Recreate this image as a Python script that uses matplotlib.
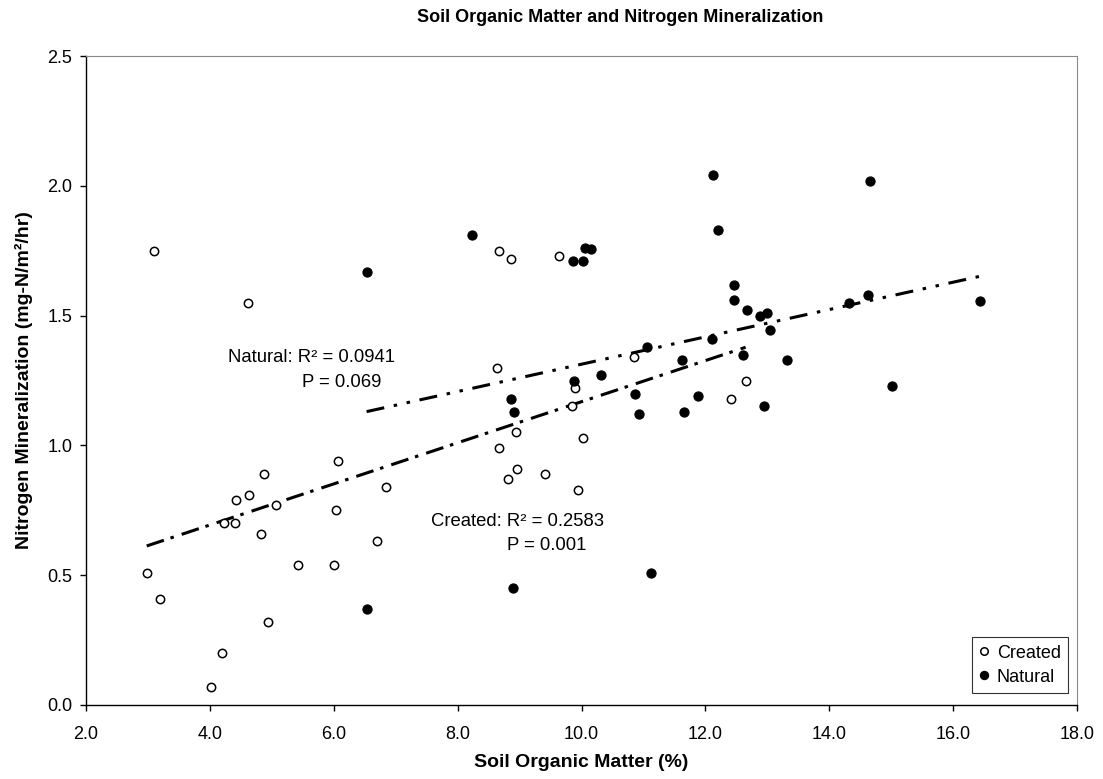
import numpy as np
import matplotlib
matplotlib.use('Agg')
import matplotlib.pyplot as plt

plt.rcParams['font.family'] = ['Liberation Sans', 'DejaVu Sans']
plt.rcParams['lines.scale_dashes'] = False

# soil organic matter (%) and N mineralization (mg-N/m2/hr)
created_som = [3.10, 4.62, 6.07, 4.88, 4.42, 4.63, 5.07, 4.22, 4.41, 4.82,
               6.03, 6.85, 6.69, 5.43, 6.01, 2.98, 3.19, 4.94, 4.20, 4.02,
               8.67, 8.86, 9.63, 10.85, 8.64, 9.90, 12.65, 12.42, 9.85, 8.94,
               10.03, 8.67, 8.81, 8.96, 9.41, 9.94]
created_nmin = [1.75, 1.55, 0.94, 0.89, 0.79, 0.81, 0.77, 0.70, 0.70, 0.66,
                0.75, 0.84, 0.63, 0.54, 0.54, 0.51, 0.41, 0.32, 0.20, 0.07,
                1.75, 1.72, 1.73, 1.34, 1.30, 1.22, 1.25, 1.18, 1.15, 1.05,
                1.03, 0.99, 0.87, 0.91, 0.89, 0.83]

natural_som = [6.54, 6.53, 8.23, 9.87, 10.03, 10.06, 10.16, 12.12, 12.20, 12.46,
               12.47, 12.68, 12.11, 11.06, 11.62, 12.60, 10.32, 9.88, 10.87, 11.88,
               8.86, 8.91, 10.93, 11.66, 12.89, 13.00, 13.05, 14.32, 14.62, 16.44,
               13.32, 15.01, 12.94, 14.66, 8.90, 11.12]
natural_nmin = [1.67, 0.37, 1.81, 1.71, 1.71, 1.76, 1.755, 2.04, 1.83, 1.62,
                1.56, 1.52, 1.41, 1.38, 1.33, 1.35, 1.27, 1.25, 1.20, 1.19,
                1.18, 1.13, 1.12, 1.13, 1.50, 1.51, 1.445, 1.55, 1.58, 1.555,
                1.33, 1.23, 1.15, 2.02, 0.45, 0.51]

x_ticks = [2.0, 4.0, 6.0, 8.0, 10.0, 12.0, 14.0, 16.0, 18.0]
y_ticks = [0.0, 0.5, 1.0, 1.5, 2.0, 2.5]

fig = plt.figure(figsize=(11.03, 7.79), dpi=100)
ax = fig.add_axes([0.078, 0.095, 0.8984, 0.833])

ax.plot(created_som, created_nmin, 'o', ms=6.0, mfc='white', mec='black',
        mew=1.1, label='Created', zorder=3)
ax.plot(natural_som, natural_nmin, 'o', ms=6.6, mfc='black', mec='black',
        mew=0.8, label='Natural', zorder=3)

# linear trendlines over each data range
def trend(x, y):
    x = np.asarray(x)
    k, b = np.polyfit(x, y, 1)
    xs = np.array([x.min(), x.max()])
    return xs, k * xs + b

xs, ys = trend(created_som, created_nmin)
ax.plot(xs, ys, color='black', lw=2.2, dashes=(13, 5, 2.5, 6), zorder=2)
xs, ys = trend(natural_som, natural_nmin)
ax.plot(xs, ys, color='black', lw=2.2, dashes=(13, 7, 2.5, 7, 2.5, 7), zorder=2)

ax.text(4.30, 1.337, 'Natural: R² = 0.0941', fontsize=13.3, va='center')
ax.text(5.49, 1.244, 'P = 0.069', fontsize=13.3, va='center')
ax.text(7.57, 0.706, 'Created: R² = 0.2583', fontsize=13.3, va='center')
ax.text(8.80, 0.616, 'P = 0.001', fontsize=13.3, va='center')

ax.set_xlim(2, 18)
ax.set_ylim(0, 2.5)
ax.set_xticks(x_ticks)
ax.set_yticks(y_ticks)
ax.set_xticklabels(['%.1f' % v for v in x_ticks])
ax.set_yticklabels(['%.1f' % v for v in y_ticks])
ax.tick_params(direction='out', length=4, width=1, labelsize=13, color='black')
ax.tick_params(axis='x', pad=11)
ax.tick_params(axis='y', pad=6)

for s in ['left', 'bottom']:
    ax.spines[s].set_color('black')
    ax.spines[s].set_linewidth(1.0)
for s in ['top', 'right']:
    ax.spines[s].set_color('#8a8a8a')
    ax.spines[s].set_linewidth(0.8)

ax.set_xlabel('Soil Organic Matter (%)', fontsize=14, fontweight='bold', labelpad=8)
ax.set_ylabel('Nitrogen Mineralization (mg-N/m²/hr)', fontsize=14,
              fontweight='bold', labelpad=10)
fig.text(0.562, 0.977, 'Soil Organic Matter and Nitrogen Mineralization',
         fontsize=13, fontweight='bold', ha='center', va='center')

leg = ax.legend(loc='lower right', bbox_to_anchor=(0.991, 0.0185), fontsize=13,
                frameon=True, fancybox=False, edgecolor='black', borderaxespad=0,
                handlelength=0.6, handletextpad=0.4, borderpad=0.4,
                labelspacing=0.4, markerscale=0.9)
leg.get_frame().set_linewidth(0.8)

fig.savefig('out.png', dpi=100, facecolor='white')
